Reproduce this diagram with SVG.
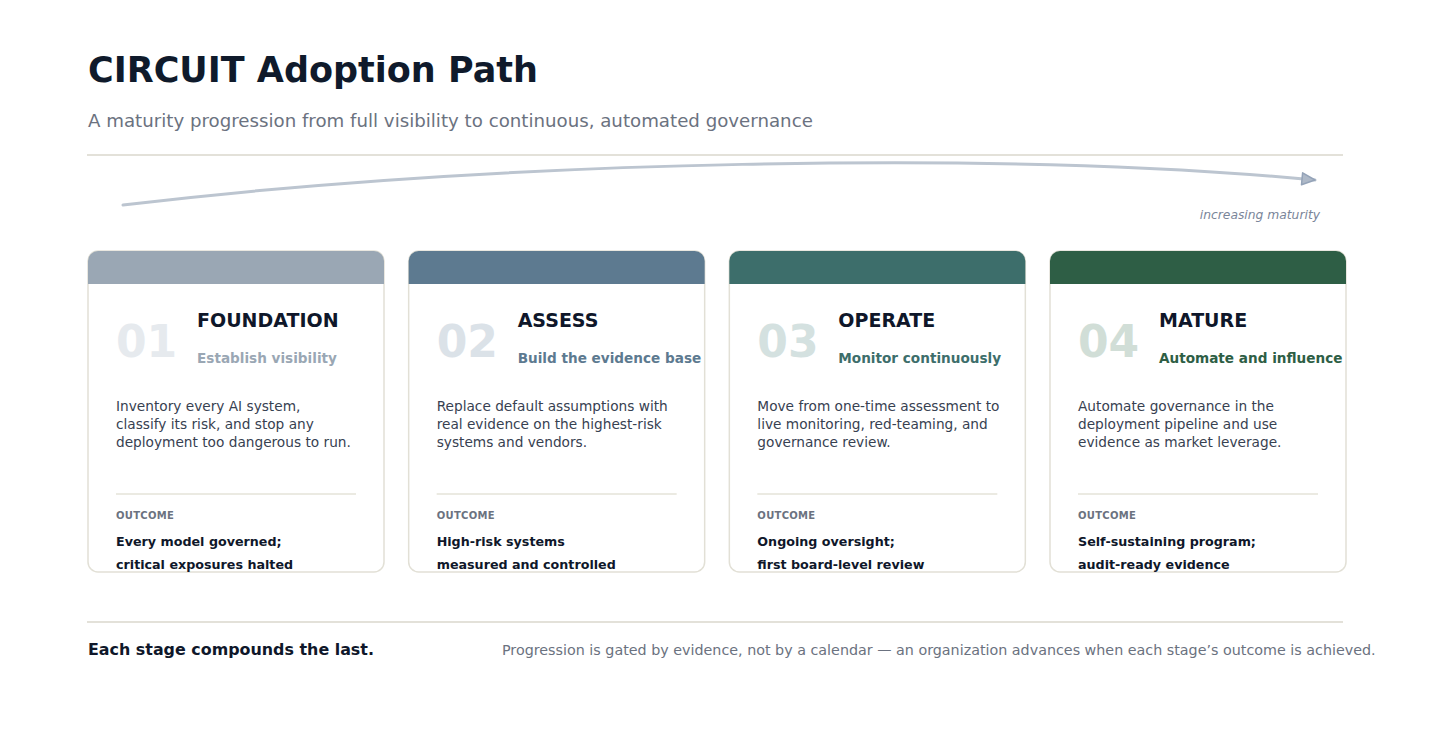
<svg xmlns="http://www.w3.org/2000/svg" width="1430" height="742" viewBox="0 0 1430 742">
<defs>
<marker id="arrow" markerUnits="userSpaceOnUse" markerWidth="18" markerHeight="18" refX="15" refY="8" orient="auto" viewBox="0 0 18 16">
<path d="M2,2 L15,8 L2,14 Z" fill="#aeb9c8" stroke="#94a3b8" stroke-width="1.5" stroke-linejoin="round"/>
</marker>
<style>
text{font-family:"DejaVu Sans","Noto Sans",sans-serif;}
.title{font-size:35px;font-weight:bold;fill:#0f1a2b;}
.sub{font-size:18.2px;fill:#6b7280;}
.rule{stroke:#e3e1d9;stroke-width:2;}
.card{fill:#ffffff;stroke:#e2e0d6;stroke-width:1.5;}
.num{font-size:44px;font-weight:bold;}
.stage{font-size:19px;font-weight:bold;fill:#0f172a;}
.tag{font-size:13.6px;font-weight:bold;}
.desc{font-size:13.7px;fill:#374151;}
.div{stroke:#e5e3d8;stroke-width:1.5;}
.olabel{font-size:10px;font-weight:bold;fill:#6b7280;letter-spacing:0.3px;}
.otext{font-size:12.7px;font-weight:bold;fill:#0f172a;}
</style>
</defs>
<rect width="1430" height="742" fill="#ffffff"/>
<text class="title" x="88" y="82">CIRCUIT Adoption Path</text>
<text class="sub" x="88" y="127">A maturity progression from full visibility to continuous, automated governance</text>
<line class="rule" x1="87" y1="155" x2="1343" y2="155"/>
<g id="connectors">
<path d="M123,205 C500,160 1000,150 1315,180" fill="none" stroke="#bcc5d0" stroke-width="3" stroke-linecap="round" marker-end="url(#arrow)"/>
</g>
<text x="1320" y="219" text-anchor="end" font-size="12.3" font-style="italic" fill="#7a8599">increasing maturity</text>

<g id="card1">
<rect class="card" x="88" y="251" width="296" height="321" rx="10"/>
<path d="M88,284 V261 A10,10 0 0 1 98,251 H374 A10,10 0 0 1 384,261 V284 Z" fill="#9aa7b4"/>
<text class="num" x="116" y="357" fill="#e6eaee">01</text>
<text class="stage" x="197" y="327">FOUNDATION</text>
<text class="tag" x="197" y="363" fill="#9aa7b4">Establish visibility</text>
<text class="desc" x="116" y="411">Inventory every AI system,</text>
<text class="desc" x="116" y="429">classify its risk, and stop any</text>
<text class="desc" x="116" y="447">deployment too dangerous to run.</text>
<line class="div" x1="116" y1="494" x2="356" y2="494"/>
<text class="olabel" x="116" y="519">OUTCOME</text>
<text class="otext" x="116" y="546">Every model governed;</text>
<text class="otext" x="116" y="569">critical exposures halted</text>
</g>

<g id="card2">
<rect class="card" x="408.67" y="251" width="296" height="321" rx="10"/>
<path d="M408.67,284 V261 A10,10 0 0 1 418.67,251 H694.67 A10,10 0 0 1 704.67,261 V284 Z" fill="#5d7a90"/>
<text class="num" x="436.67" y="357" fill="#dbe2e8">02</text>
<text class="stage" x="517.67" y="327">ASSESS</text>
<text class="tag" x="517.67" y="363" fill="#5d7a90">Build the evidence base</text>
<text class="desc" x="436.67" y="411">Replace default assumptions with</text>
<text class="desc" x="436.67" y="429">real evidence on the highest-risk</text>
<text class="desc" x="436.67" y="447">systems and vendors.</text>
<line class="div" x1="436.67" y1="494" x2="676.67" y2="494"/>
<text class="olabel" x="436.67" y="519">OUTCOME</text>
<text class="otext" x="436.67" y="546">High-risk systems</text>
<text class="otext" x="436.67" y="569">measured and controlled</text>
</g>

<g id="card3">
<rect class="card" x="729.33" y="251" width="296" height="321" rx="10"/>
<path d="M729.33,284 V261 A10,10 0 0 1 739.33,251 H1015.33 A10,10 0 0 1 1025.33,261 V284 Z" fill="#3d6e6b"/>
<text class="num" x="757.33" y="357" fill="#d4e1e0">03</text>
<text class="stage" x="838.33" y="327">OPERATE</text>
<text class="tag" x="838.33" y="363" fill="#3d6e6b">Monitor continuously</text>
<text class="desc" x="757.33" y="411">Move from one-time assessment to</text>
<text class="desc" x="757.33" y="429">live monitoring, red-teaming, and</text>
<text class="desc" x="757.33" y="447">governance review.</text>
<line class="div" x1="757.33" y1="494" x2="997.33" y2="494"/>
<text class="olabel" x="757.33" y="519">OUTCOME</text>
<text class="otext" x="757.33" y="546">Ongoing oversight;</text>
<text class="otext" x="757.33" y="569">first board-level review</text>
</g>

<g id="card4">
<rect class="card" x="1050" y="251" width="296" height="321" rx="10"/>
<path d="M1050,284 V261 A10,10 0 0 1 1060,251 H1336 A10,10 0 0 1 1346,261 V284 Z" fill="#2e5e45"/>
<text class="num" x="1078" y="357" fill="#d1ded7">04</text>
<text class="stage" x="1159" y="327">MATURE</text>
<text class="tag" x="1159" y="363" fill="#2e5e45">Automate and influence</text>
<text class="desc" x="1078" y="411">Automate governance in the</text>
<text class="desc" x="1078" y="429">deployment pipeline and use</text>
<text class="desc" x="1078" y="447">evidence as market leverage.</text>
<line class="div" x1="1078" y1="494" x2="1318" y2="494"/>
<text class="olabel" x="1078" y="519">OUTCOME</text>
<text class="otext" x="1078" y="546">Self-sustaining program;</text>
<text class="otext" x="1078" y="569">audit-ready evidence</text>
</g>

<line class="rule" x1="87" y1="622" x2="1343" y2="622"/>
<text x="88" y="655" font-size="15.9" font-weight="bold" fill="#0f172a">Each stage compounds the last.</text>
<text x="502" y="655" font-size="14.3" fill="#6b7280">Progression is gated by evidence, not by a calendar — an organization advances when each stage’s outcome is achieved.</text>
</svg>
